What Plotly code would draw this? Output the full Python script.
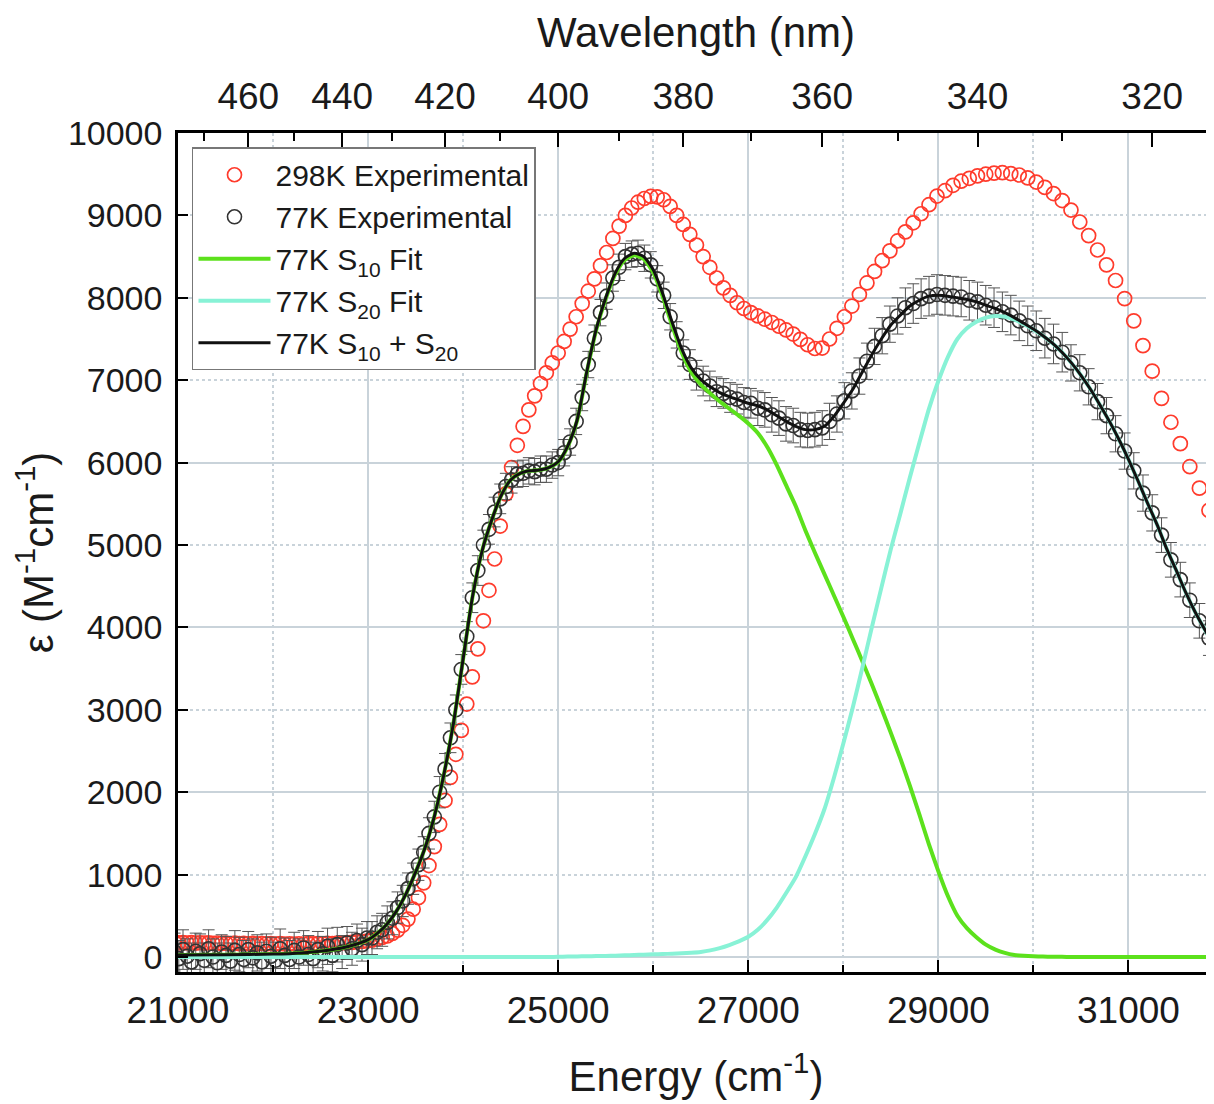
import plotly.graph_objects as go

# ---------------- data ----------------
# sample wavelengths of the measured spectra (nm), 1 nm steps
WL_NM = list(range(477, 312, -1))

RED_298K = [
    178, 172, 176, 170, 174, 168, 173, 169,
    172, 166, 170, 165, 169, 163, 168, 162, 166, 161,
    165, 160, 164, 159, 163, 158, 162, 158, 161, 157,
    161, 158, 162, 159, 163, 161, 165, 164, 168, 170,
    174, 178, 183, 188, 194, 205, 220, 237, 255, 285,
    325, 385, 460, 580, 720, 900, 1110, 1340, 1610, 1900,
    2180, 2460, 2750, 3070, 3400, 3740, 4080, 4450, 4830, 5230,
    5620, 5940, 6210, 6440, 6640, 6810, 6960, 7090, 7210, 7330,
    7470, 7620, 7770, 7930, 8080, 8230, 8390, 8550, 8720, 8870,
    9000, 9090, 9160, 9205, 9230, 9225, 9190, 9110, 9000, 8890,
    8770, 8640, 8500, 8370, 8240, 8120, 8030, 7940, 7870, 7820,
    7780, 7740, 7700, 7655, 7610, 7560, 7495, 7430, 7385, 7390,
    7500, 7630, 7770, 7900, 8040, 8180, 8320, 8450, 8570, 8690,
    8800, 8910, 9020, 9130, 9235, 9300, 9365, 9415, 9450, 9480,
    9500, 9513, 9518, 9508, 9490, 9455, 9405, 9340, 9265, 9180,
    9065, 8920, 8755, 8580, 8400, 8210, 7990, 7720, 7420, 7110,
    6780, 6490, 6230, 5950, 5690, 5420, 5150,
]

BLACK_77K = [
    60, -20, 90, 10, -60, 70, 40, -40,
    100, 0, -70, 60, 20, -50, 80, 30, -30, 90,
    -10, 50, -60, 70, 10, -40, 100, 20, -30, 80,
    0, 110, 30, -20, 90, 40, 130, 20, 150, 60,
    170, 100, 200, 150, 230, 230, 300, 330, 420, 470,
    600, 680, 830, 950, 1120, 1270, 1500, 1700, 2000, 2280,
    2660, 3000, 3490, 3890, 4360, 4690, 5000, 5190, 5400, 5560,
    5710, 5790, 5860, 5870, 5900, 5890, 5920, 5920, 5970, 6000,
    6120, 6250, 6500, 6790, 7190, 7510, 7820, 8020, 8240, 8370,
    8500, 8530, 8540, 8480, 8400, 8230, 8030, 7770, 7550, 7330,
    7190, 7060, 6990, 6930, 6860, 6840, 6790, 6770, 6730, 6720,
    6660, 6640, 6580, 6540, 6470, 6450, 6400, 6390, 6400, 6420,
    6500, 6590, 6750, 6870, 7050, 7230, 7410, 7540, 7680, 7780,
    7880, 7930, 7990, 8020, 8040, 8030, 8020, 8010, 7970, 7950,
    7910, 7880, 7830, 7790, 7720, 7660, 7600, 7510, 7440, 7340,
    7210, 7090, 6920, 6740, 6570, 6350, 6140, 5900, 5630, 5390,
    5120, 4820, 4580, 4330, 4080, 3870, 3680,
]

ERR_77K = [
    230, 220, 240, 210, 230, 220, 240, 210,
    230, 220, 240, 210, 230, 220, 240, 210, 230, 220,
    230, 220, 240, 210, 230, 220, 240, 210, 230, 220,
    220, 210, 230, 200, 220, 210, 220, 200, 210, 200,
    200, 200, 200, 200, 200, 200, 200, 200, 200, 200,
    190, 190, 190, 190, 190, 190, 190, 190, 190, 190,
    180, 180, 180, 180, 180, 180, 180, 180, 180, 180,
    160, 160, 160, 160, 160, 160, 160, 160, 160, 160,
    160, 160, 160, 160, 160, 160, 160, 160, 160, 160,
    160, 160, 160, 160, 160, 160, 160, 160, 160, 160,
    180, 180, 180, 180, 180, 180, 180, 180, 180, 180,
    210, 210, 210, 210, 210, 210, 210, 210, 210, 210,
    220, 220, 220, 220, 220, 220, 220, 220, 220, 220,
    240, 240, 240, 240, 240, 240, 240, 240, 240, 240,
    240, 240, 240, 240, 240, 240, 240, 240, 240, 240,
    220, 220, 220, 220, 220, 220, 220, 220, 220, 220,
    210, 210, 210, 210, 210, 210, 210,
]

# energy grid of the fitted curves (cm-1)
FIT_E = [21000, 21500, 22000, 22300, 22600, 22800] + list(range(23000, 32000, 100))

FIT_S10 = [
    25, 28, 35, 50, 85, 130,
    210, 290, 400, 560, 770, 1030, 1330, 1720, 2230, 2850,
    3620, 4380, 4930, 5300, 5600, 5790, 5870, 5900, 5910, 5940,
    6007, 6195, 6513, 7091, 7609, 7987, 8284, 8460, 8516, 8472,
    8308, 8014, 7660, 7335, 7098, 6948, 6840, 6742, 6655, 6570,
    6475, 6360, 6190, 5970, 5720, 5470, 5180, 4910, 4650, 4390,
    4130, 3860, 3590, 3310, 3020, 2720, 2410, 2080, 1730, 1370,
    1040, 740, 500, 350, 240, 150, 90, 50, 25, 14,
    8, 5, 3, 2, 1, 0, 0, 0, 0, 0,
    0, 0, 0, 0, 0, 0, 0, 0, 0, 0,
]

FIT_S20 = [
    0, 0, 0, 0, 0, 0,
    0, 0, 0, 0, 0, 0, 0, 0, 0, 0,
    0, 0, 0, 0, 0, 0, 0, 0, 0, 0,
    3, 5, 7, 9, 11, 13, 16, 20, 24, 28,
    32, 36, 40, 45, 52, 62, 80, 108, 145, 190,
    245, 330, 450, 600, 780, 970, 1220, 1490, 1790, 2170,
    2590, 3030, 3510, 4000, 4480, 4950, 5380, 5820, 6240, 6650,
    6990, 7280, 7500, 7630, 7710, 7760, 7780, 7770, 7735, 7680,
    7615, 7538, 7449, 7340, 7210, 7060, 6890, 6700, 6500, 6280,
    6040, 5780, 5510, 5250, 4960, 4700, 4430, 4190, 3980, 3780,
]

FIT_SUM = [
    25, 28, 35, 50, 85, 130,
    210, 290, 400, 560, 770, 1030, 1330, 1720, 2230, 2850,
    3620, 4380, 4930, 5300, 5600, 5790, 5870, 5900, 5910, 5940,
    6010, 6200, 6520, 7100, 7620, 8000, 8300, 8480, 8540, 8500,
    8340, 8050, 7700, 7380, 7150, 7010, 6920, 6850, 6800, 6760,
    6720, 6690, 6640, 6570, 6500, 6440, 6400, 6400, 6440, 6560,
    6720, 6890, 7100, 7310, 7500, 7670, 7790, 7900, 7970, 8020,
    8030, 8020, 8000, 7980, 7950, 7910, 7870, 7820, 7760, 7690,
    7620, 7540, 7450, 7340, 7210, 7060, 6890, 6700, 6500, 6280,
    6040, 5780, 5510, 5250, 4960, 4700, 4430, 4190, 3980, 3780,
]

TOP_MAJOR_NM = [460, 440, 420, 400, 380, 360, 340, 320]
TOP_MINOR_NM = [470, 450, 430, 410, 390, 370, 350, 330]

# ---------------- figure ----------------
FONT = "Liberation Sans, Arial, sans-serif"
GRID = "#c9d3da"
X_RANGE = [21000, 31900]
Y_RANGE = [-182, 10000]

energy = [1e7 / w for w in WL_NM]

fig = go.Figure()
fig.add_trace(go.Scatter(
    x=energy, y=RED_298K, mode="markers", name="298K Experimental",
    marker=dict(symbol="circle-open", size=14, color="#ff3b2c", line=dict(width=1.7)),
))
fig.add_trace(go.Scatter(
    x=energy, y=BLACK_77K, mode="markers", name="77K Experimental",
    marker=dict(symbol="circle-open", size=14, color="#333333", line=dict(width=1.6)),
    error_y=dict(type="data", array=ERR_77K, color="#555555", thickness=1, width=6),
))
# fitted curves live on the overlaid (top / grid) axes, which share the same ranges
fig.add_trace(go.Scatter(
    x=FIT_E, y=FIT_S10, mode="lines", name="77K S<sub>10</sub> Fit",
    xaxis="x2", yaxis="y2",
    line=dict(color="#5ce11c", width=4, shape="spline", smoothing=0.6),
))
fig.add_trace(go.Scatter(
    x=FIT_E, y=FIT_S20, mode="lines", name="77K S<sub>20</sub> Fit",
    xaxis="x2", yaxis="y2",
    line=dict(color="#88f2d6", width=4, shape="spline", smoothing=0.6),
))
fig.add_trace(go.Scatter(
    x=FIT_E, y=FIT_SUM, mode="lines", name="77K S<sub>10</sub> + S<sub>20</sub>",
    xaxis="x2", yaxis="y2",
    line=dict(color="#111111", width=3, shape="spline", smoothing=0.6),
))

fig.update_layout(
    width=1206, height=1096,
    margin=dict(l=170, r=0, t=125, b=132),
    paper_bgcolor="white", plot_bgcolor="white",
    font=dict(family=FONT, color="#1a1a1a"),
    showlegend=True,
    legend=dict(
        x=0.0135, y=0.983, xanchor="left", yanchor="top",
        bgcolor="white", bordercolor="#777777", borderwidth=1.5,
        font=dict(size=30, family=FONT, color="#1a1a1a"),
        itemwidth=72, tracegroupgap=0,
    ),
    xaxis=dict(
        range=X_RANGE, tickmode="linear", tick0=21000, dtick=2000,
        ticks="inside", ticklen=12, tickwidth=2, tickcolor="black",
        showline=True, linecolor="black", linewidth=2.5,
        showgrid=True, gridcolor=GRID, gridwidth=1.5, zeroline=False,
        tickformat="d",
        tickfont=dict(size=37), ticklabelstandoff=4, automargin=False,
        title=dict(text="Energy (cm<sup>-1</sup>)", font=dict(size=42), standoff=32),
        minor=dict(tick0=21000, dtick=1000, ticks="inside", ticklen=7, tickwidth=2,
                   tickcolor="black", showgrid=True, gridcolor=GRID, gridwidth=1.5,
                   griddash="dot"),
    ),
    xaxis2=dict(
        overlaying="x", side="top", anchor="y2", range=X_RANGE,
        tickmode="array", tickvals=[1e7 / w for w in TOP_MAJOR_NM],
        ticktext=[str(w) for w in TOP_MAJOR_NM],
        ticks="inside", ticklen=14, tickwidth=2, tickcolor="black",
        showline=True, linecolor="black", linewidth=2.5,
        showgrid=False, zeroline=False,
        tickfont=dict(size=37), ticklabelstandoff=6, automargin=False,
        title=dict(text="Wavelength (nm)", font=dict(size=42), standoff=16),
        minor=dict(tickmode="array", tickvals=[1e7 / w for w in TOP_MINOR_NM],
                   ticks="inside", ticklen=8, tickwidth=2, tickcolor="black",
                   showgrid=False),
    ),
    yaxis=dict(
        range=Y_RANGE, tickmode="linear", tick0=0, dtick=1000,
        ticks="inside", ticklen=10, tickwidth=2, tickcolor="black",
        showline=True, linecolor="black", linewidth=2.5,
        showgrid=False, zeroline=False,
        tickformat="d",
        tickfont=dict(size=34), ticklabelstandoff=6, automargin=False,
        title=dict(text="ε (M<sup>-1</sup>cm<sup>-1</sup>)", font=dict(size=42), standoff=8),
    ),
    yaxis2=dict(
        overlaying="y", anchor="x2", side="left", range=Y_RANGE,
        tickmode="linear", tick0=0, dtick=2000,
        showticklabels=False, ticks="", showline=False, zeroline=False,
        showgrid=True, gridcolor=GRID, gridwidth=1.5,
        minor=dict(tick0=0, dtick=1000, showgrid=True, gridcolor=GRID,
                   gridwidth=1.5, griddash="dot", ticks=""),
    ),
)

fig.write_html("out.html")
